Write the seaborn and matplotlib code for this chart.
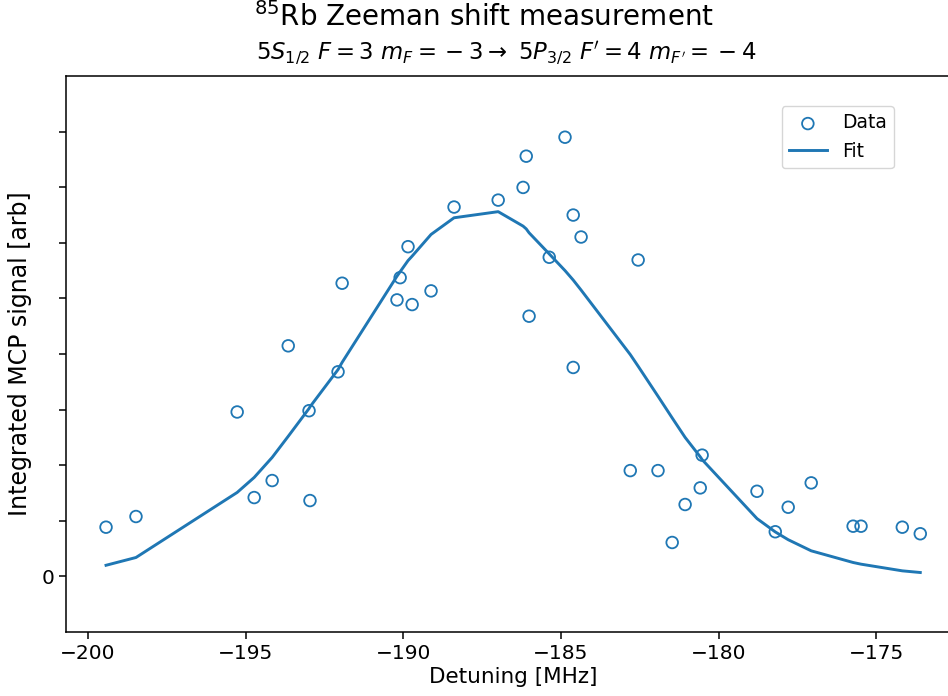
import numpy as np
import pandas as pd
import matplotlib
matplotlib.use("Agg")
import matplotlib.pyplot as plt
import seaborn as sns

# Detuning [MHz] of each measurement
detuning = [-199.43, -198.48, -195.27, -194.73, -194.16, -193.65, -192.99, -192.96,
            -192.07, -191.94, -190.20, -190.10, -189.85, -189.72, -189.12, -188.39,
            -186.99, -186.20, -186.10, -186.01, -185.37, -184.87, -184.61, -184.61,
            -184.36, -182.80, -182.55, -181.92, -181.47, -181.06, -180.58, -180.52,
            -178.78, -178.20, -177.79, -177.06, -175.73, -175.48, -174.17, -173.60]
# Integrated MCP signal (arb. units)
signal = [0.885, 1.077, 2.957, 1.418, 1.724, 4.147, 2.980, 1.364,
          3.680, 5.273, 4.973, 5.373, 5.930, 4.889, 5.135, 6.643,
          6.768, 6.996, 7.558, 4.680, 5.740, 7.899, 6.499, 3.758,
          6.104, 1.903, 5.691, 1.903, 0.610, 1.293, 1.592, 2.181,
          1.531, 0.803, 1.244, 1.682, 0.903, 0.903, 0.885, 0.767]
# Fit curve values at the same detunings
fit = [0.20, 0.34, 1.51, 1.78, 2.14, 2.52, 3.02, 3.05,
       3.72, 3.85, 5.40, 5.48, 5.68, 5.76, 6.15, 6.45,
       6.56, 6.30, 6.25, 6.18, 5.80, 5.50, 5.33, 5.33,
       5.15, 3.99, 3.78, 3.24, 2.85, 2.50, 2.15, 2.10,
       1.04, 0.80, 0.66, 0.46, 0.25, 0.22, 0.10, 0.07]

xticks = [-200, -195, -190, -185, -180, -175]
yticks = [0, 1, 2, 3, 4, 5, 6, 7, 8]
ytick_labels = ["0", "", "", "", "", "", "", "", ""]

df = pd.DataFrame({"detuning": detuning, "signal": signal, "fit": fit})

color = "#1f77b4"
W, H = 948, 696
fig = plt.figure(figsize=(W / 100, H / 100), dpi=100)
ax = fig.add_axes([66 / W, 1 - 632 / H, 894 / W, (632 - 76) / H])

sns.scatterplot(data=df, x="detuning", y="signal", ax=ax, marker="o",
                s=70, facecolor="none", edgecolor=color, linewidth=1.3,
                label="Data", zorder=3)
sns.lineplot(data=df, x="detuning", y="fit", ax=ax, color=color,
             linewidth=2.1, estimator=None, sort=False, label="Fit", zorder=2)

ax.set_xlim(-200.70, -172.34)
ax.set_ylim(-1, 9)
ax.set_xticks(xticks)
ax.set_yticks(yticks)
ax.set_yticklabels(ytick_labels)
ax.tick_params(labelsize=14.5, length=5, width=1.1)
for sp in ax.spines.values():
    sp.set_linewidth(1.1)
ax.set_xlabel("Detuning [MHz]", fontsize=15.5, labelpad=3)
ax.set_ylabel("Integrated MCP signal [arb]", fontsize=17, labelpad=7)

leg = ax.legend(loc="upper right", bbox_to_anchor=(894 / W, 1 - 106 / H),
                bbox_transform=fig.transFigure, borderaxespad=0,
                fontsize=13.5, frameon=True)

fig.text(484 / W, 1 - 17 / H, r"$^{85}$Rb Zeeman shift measurement",
         ha="center", va="center", fontsize=20)
fig.text(506 / W, 1 - 53 / H,
         r"$5S_{1/2}$ $F=3$ $m_F={}-3\rightarrow$ $5P_{3/2}$ $F^{\prime}=4$ $m_{F^{\prime}}={}-4$",
         ha="center", va="center", fontsize=16.4)

fig.savefig("out.png", dpi=100)
